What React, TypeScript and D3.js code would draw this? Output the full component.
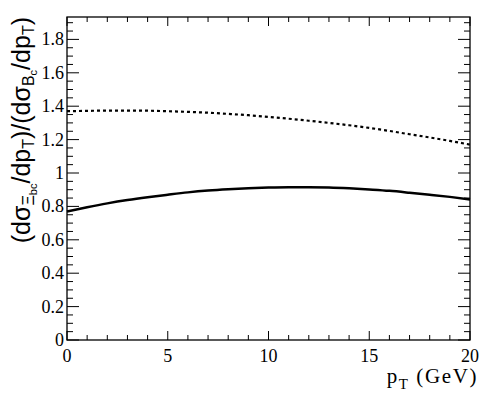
import React from "react";
import * as d3 from "d3";

const pT = [0,1,2,3,4,5,6,7,8,9,10,11,12,13,14,15,16,17,18,19,20];
const ratioSolid = [0.770,0.795,0.818,0.838,0.855,0.870,0.884,0.895,0.903,0.909,0.913,0.915,0.915,0.913,0.908,0.901,0.893,0.882,0.870,0.857,0.842];
const ratioDotted = [1.370,1.372,1.374,1.374,1.373,1.370,1.366,1.361,1.354,1.346,1.336,1.325,1.313,1.300,1.286,1.270,1.252,1.232,1.213,1.192,1.170];
const xTicks = [0,5,10,15,20];
const yTicks = [0,0.2,0.4,0.6,0.8,1,1.2,1.4,1.6,1.8];

const W = 498, H = 399;
const L = 67, R = 470, T = 17, B = 340;

export default function App() {
  const x = d3.scaleLinear().domain([0, 20]).range([L, R]);
  const y = d3.scaleLinear().domain([0, (B - T) / 167]).range([B, T]);
  const line = d3.line<number>().x((_, i) => x(pT[i])).y(d => y(d)).curve(d3.curveMonotoneX);

  const xMinor = d3.range(0, 21, 1);
  const yMinor = d3.range(0, 1.93, 0.05);

  const serif = "'Liberation Serif', 'Times New Roman', serif";
  const sans = "'Liberation Sans', Arial, sans-serif";

  return (
    <svg width={W} height={H} style={{ position: "absolute", left: 0, top: 0 }}>
      <rect x={0} y={0} width={W} height={H} fill="white" />
      {xMinor.map(v => {
        const major = v % 5 === 0;
        const len = major ? 9 : 5;
        return (
          <g key={"xt" + v}>
            <line x1={x(v)} x2={x(v)} y1={B} y2={B - len} stroke="black" strokeWidth={1} />
            <line x1={x(v)} x2={x(v)} y1={T} y2={T + len} stroke="black" strokeWidth={1} />
          </g>
        );
      })}
      {yMinor.map((v, i) => {
        const major = i % 4 === 0;
        const len = major ? 12 : 6;
        return (
          <g key={"yt" + i}>
            <line x1={L} x2={L + len} y1={y(v)} y2={y(v)} stroke="black" strokeWidth={1} />
            <line x1={R} x2={R - len} y1={y(v)} y2={y(v)} stroke="black" strokeWidth={1} />
          </g>
        );
      })}
      <rect x={L} y={T} width={R - L} height={B - T} fill="none" stroke="black" strokeWidth={1.3} />
      <path d={line(ratioSolid) || ""} fill="none" stroke="black" strokeWidth={2.5} />
      <path d={line(ratioDotted) || ""} fill="none" stroke="black" strokeWidth={2.2} strokeDasharray="3,3" />
      {xTicks.map(v => (
        <text key={"xl" + v} x={x(v)} y={362} textAnchor="middle" fontFamily={serif} fontSize={18}>{v}</text>
      ))}
      {yTicks.map(v => (
        <text key={"yl" + v} x={64} y={y(v) + 6} textAnchor="end" fontFamily={serif} fontSize={18}>{v === 0 || v === 1 ? String(v) : v.toFixed(1)}</text>
      ))}
      <text x={478} y={383} textAnchor="end" fontFamily={serif} fontSize={21} letterSpacing={1.6}>
        p<tspan fontSize={15} dy={6}>T</tspan><tspan dy={-6}> (GeV)</tspan>
      </text>
      <text transform={`translate(30,17) rotate(-90)`} textAnchor="end" fontFamily={sans} fontSize={25}>
        (dσ<tspan fontSize={16} dy={4}>Ξ</tspan><tspan fontSize={11} dy={3}>bc</tspan><tspan dy={-7}>/dp</tspan><tspan fontSize={16} dy={4}>T</tspan><tspan dy={-4}>)/(dσ</tspan><tspan fontSize={16} dy={4}>B</tspan><tspan fontSize={11} dy={3}>c</tspan><tspan dy={-7}>/dp</tspan><tspan fontSize={16} dy={4}>T</tspan><tspan dy={-4}>)</tspan>
      </text>
    </svg>
  );
}
